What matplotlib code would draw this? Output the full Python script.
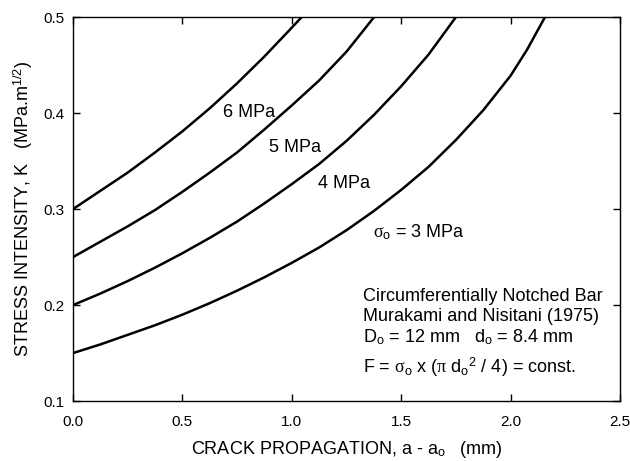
import matplotlib
matplotlib.use("Agg")
import matplotlib.pyplot as plt

plt.rcParams["font.family"] = ["Liberation Sans", "DejaVu Sans"]
plt.rcParams["mathtext.fontset"] = "custom"
plt.rcParams["mathtext.rm"] = "Liberation Sans"
plt.rcParams["mathtext.it"] = "Liberation Serif"
plt.rcParams["mathtext.sf"] = "Liberation Sans"

# ── Données ──
x_3 = [0, 0.125, 0.25, 0.375, 0.5, 0.625, 0.75, 0.875, 1.0, 1.125, 1.25,
       1.375, 1.5, 1.625, 1.75, 1.875, 2.0, 2.075, 2.157]
k_3 = [0.150, 0.159, 0.169, 0.179, 0.190, 0.202, 0.215, 0.229, 0.244, 0.260,
       0.278, 0.298, 0.320, 0.344, 0.372, 0.403, 0.439, 0.466, 0.500]

x_4 = [0, 0.125, 0.25, 0.375, 0.5, 0.625, 0.75, 0.875, 1.0, 1.125, 1.25,
       1.375, 1.5, 1.625, 1.75]
k_4 = [0.200, 0.212, 0.225, 0.239, 0.254, 0.270, 0.287, 0.306, 0.326, 0.347,
       0.371, 0.398, 0.428, 0.461, 0.500]

x_5 = [0, 0.125, 0.25, 0.375, 0.5, 0.625, 0.75, 0.875, 1.0, 1.125, 1.25, 1.376]
k_5 = [0.250, 0.266, 0.282, 0.299, 0.318, 0.338, 0.359, 0.383, 0.408, 0.434,
       0.464, 0.500]

x_6 = [0, 0.125, 0.25, 0.375, 0.5, 0.625, 0.75, 0.875, 1.0, 1.045]
k_6 = [0.300, 0.319, 0.338, 0.359, 0.381, 0.405, 0.431, 0.459, 0.489, 0.500]

curves = [(x_3, k_3), (x_4, k_4), (x_5, k_5), (x_6, k_6)]

curve_labels = [r"$\mathit{\sigma}_\mathrm{o}$ = 3 MPa", "4 MPa", "5 MPa", "6 MPa"]
label_pos = [(1.371, 0.276), (1.12, 0.327), (0.896, 0.3646), (0.686, 0.401)]

notes = [
    ("Circumferentially Notched Bar", 0.209),
    ("Murakami and Nisitani (1975)", 0.1885),
    (r"D$_\mathrm{o}$ = 12 mm   d$_\mathrm{o}$ = 8.4 mm", 0.1667),
    (r"F = $\mathit{\sigma}_\mathrm{o}$ x ($\mathit{\pi}$ d$_\mathrm{o}$$^\mathrm{2}$ / 4) = const.", 0.1354),
]

fig = plt.figure(figsize=(6.3, 4.61), dpi=100)
ax = fig.add_axes([0.1159, 0.130, 0.8683, 0.833])

for xs, ks in curves:
    ax.plot(xs, ks, color="black", lw=1.8, solid_joinstyle="round")

for txt, (tx, ty) in zip(curve_labels, label_pos):
    ax.text(tx, ty, txt, fontsize=13, va="center", ha="left")

for txt, ty in notes:
    ax.text(1.325, ty, txt, fontsize=13, va="center", ha="left")

ax.set_xlim(0, 2.5)
ax.set_ylim(0.1, 0.5)
ax.set_xticks([0, 0.5, 1.0, 1.5, 2.0, 2.5])
ax.set_xticklabels(["0.0", "0.5", "1.0", "1.5", "2.0", "2.5"])
ax.set_yticks([0.1, 0.2, 0.3, 0.4, 0.5])
ax.set_yticklabels(["0.1", "0.2", "0.3", "0.4", "0.5"])
ax.tick_params(direction="in", length=5, width=1, labelsize=11,
               top=True, right=True)
ax.tick_params(axis="x", pad=10)
ax.tick_params(axis="y", pad=6)
for sp in ax.spines.values():
    sp.set_linewidth(1)

ax.set_xlabel(r"CRACK PROPAGATION, a - a$_\mathrm{o}$   (mm)", fontsize=13,
              labelpad=7)
ax.set_ylabel(r"STRESS INTENSITY, K   (MPa.m$^\mathrm{1/2}$)", fontsize=13,
              labelpad=6)

fig.savefig("out.png", dpi=100)
